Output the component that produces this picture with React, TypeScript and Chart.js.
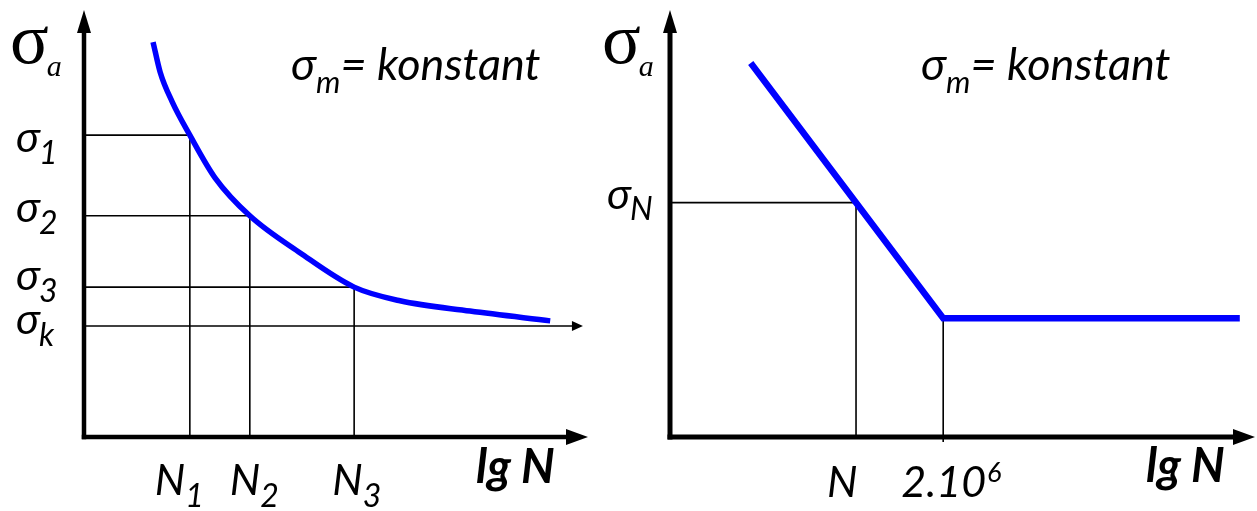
import React, { useEffect, useRef } from "react";
import { Chart, registerables } from "chart.js";

Chart.register(...registerables);

// Left panel: Wöhler curve at constant mean stress (lg N vs σa)
const curveLgN = [1.37, 1.51, 1.75, 2.1, 2.6, 3.29, 4.29, 5.36, 6.27, 7.66, 9.25];
const curveSigmaA = [9.25, 8.55, 7.85, 7.07, 6.07, 5.18, 4.31, 3.51, 3.19, 2.95, 2.72];
const levelIndex = ["1", "2", "3"];
const levelSigma = [7.07, 5.18, 3.51];
const levelLgN = [2.1, 3.29, 5.36];
const sigmaK = 2.6;
const sigmaKEnd = 9.9;

// Right panel: idealised S-N line with endurance limit at 2·10^6 cycles
const lineLgN = [1.38, 4.67, 9.74];
const lineSigmaA = [8.76, 2.78, 2.78];
const sigmaN = 5.49;
const lgNAtSigmaN = 3.18;
const kneeLgN = 4.67;
const kneeSigma = 2.78;
const kneeLowEnd = -0.12;
const kneeMantissa = "2.10";
const kneeExponent = "6";

const axisMin = 0;
const axisMax = 10;

// Text styles and label offsets
const SANS = "Lato, 'Open Sans', 'Noto Sans', sans-serif";
const MAIN_FONT = `italic 43px ${SANS}`;
const SUB_FONT = `italic 32px ${SANS}`;
const NOTE_FONT = `italic 45px ${SANS}`;
const NOTE_SUB_FONT = `italic 31px ${SANS}`;
const AXIS_FONT = `italic bold 47px ${SANS}`;
const SUP_FONT = `italic 27px ${SANS}`;
const SERIF_SIGMA = "72px 'Liberation Serif', 'DejaVu Serif', serif";
const SERIF_SUB = "italic 30px 'Liberation Serif', 'DejaVu Serif', serif";
const BLUE = "#0000ff";

const leftLevelLabelDy = [17, 6, 3];
const sigmaKLabelDy = 8;
const leftNLabelDx = [-35, -20, -22];

type Pt = { x: number; y: number };

function zipPoints(xs: number[], ys: number[]): Pt[] {
  return xs.map((x, i) => ({ x, y: ys[i] }));
}

function refPath(data: Pt[], width = 1.6) {
  return {
    data,
    borderColor: "#000",
    borderWidth: width,
    pointRadius: 0,
    tension: 0,
    fill: false,
    clip: false as any,
  };
}

function baseOptions(padding: { left: number; right: number; top: number; bottom: number }) {
  return {
    responsive: false,
    animation: false as const,
    events: [] as any[],
    layout: { padding },
    plugins: { legend: { display: false }, tooltip: { enabled: false } },
    scales: {
      x: { type: "linear" as const, min: axisMin, max: axisMax, display: false },
      y: { type: "linear" as const, min: axisMin, max: axisMax, display: false },
    },
  };
}

function arrowUp(ctx: CanvasRenderingContext2D, x: number, tip: number, len: number, half: number) {
  ctx.beginPath();
  ctx.moveTo(x, tip);
  ctx.lineTo(x - half, tip + len);
  ctx.lineTo(x + half, tip + len);
  ctx.closePath();
  ctx.fill();
}

function arrowRight(ctx: CanvasRenderingContext2D, tip: number, y: number, len: number, half: number) {
  ctx.beginPath();
  ctx.moveTo(tip, y);
  ctx.lineTo(tip - len, y - half);
  ctx.lineTo(tip - len, y + half);
  ctx.closePath();
  ctx.fill();
}

function drawAxes(chart: Chart, lw: number) {
  const ctx = chart.ctx;
  const xs = chart.scales.x;
  const ys = chart.scales.y;
  const x0 = xs.getPixelForValue(axisMin);
  const y0 = ys.getPixelForValue(axisMin);
  const yTop = ys.getPixelForValue(axisMax);
  const xRight = xs.getPixelForValue(axisMax);
  ctx.save();
  ctx.strokeStyle = "#000";
  ctx.fillStyle = "#000";
  ctx.lineWidth = lw;
  ctx.lineCap = "butt";
  ctx.beginPath();
  ctx.moveTo(x0, y0 + lw / 2);
  ctx.lineTo(x0, yTop + 20);
  ctx.stroke();
  arrowUp(ctx, x0, yTop, 23, 7);
  ctx.beginPath();
  ctx.moveTo(x0 - lw / 2, y0);
  ctx.lineTo(xRight - 20, y0);
  ctx.stroke();
  arrowRight(ctx, xRight, y0, 22, 8);
  ctx.restore();
}

function textWithIndex(
  ctx: CanvasRenderingContext2D,
  x: number,
  y: number,
  main: string,
  index: string,
  mainFont: string,
  subFont: string,
  dy: number,
  gap = 0
) {
  ctx.font = mainFont;
  ctx.fillText(main, x, y);
  const w = ctx.measureText(main).width;
  ctx.font = subFont;
  ctx.fillText(index, x + w + gap, y + dy);
  return x + w + gap + ctx.measureText(index).width;
}

function drawSigmaA(ctx: CanvasRenderingContext2D, x: number) {
  ctx.font = SERIF_SIGMA;
  ctx.fillText("σ", x, 63);
  const w = ctx.measureText("σ").width;
  ctx.font = SERIF_SUB;
  ctx.fillText("a", x + w - 2, 76);
}

function drawConstantNote(ctx: CanvasRenderingContext2D, x: number) {
  ctx.font = NOTE_FONT;
  ctx.fillText("σ", x, 80);
  let cx = x + ctx.measureText("σ").width;
  ctx.font = NOTE_SUB_FONT;
  ctx.fillText("m", cx, 93);
  cx += ctx.measureText("m").width;
  ctx.font = NOTE_FONT;
  ctx.fillText("= konstant", cx, 80);
}

function buildLeft(canvas: HTMLCanvasElement) {
  const datasets: any[] = [
    {
      data: zipPoints(curveLgN, curveSigmaA),
      borderColor: BLUE,
      borderWidth: 5.5,
      pointRadius: 0,
      cubicInterpolationMode: "monotone",
      fill: false,
      clip: false,
    },
    ...levelSigma.map((s, i) =>
      refPath([
        { x: 0, y: s },
        { x: levelLgN[i], y: s },
        { x: levelLgN[i], y: 0 },
      ])
    ),
    refPath(
      [
        { x: 0, y: sigmaK },
        { x: sigmaKEnd - 0.2, y: sigmaK },
      ],
      1.5
    ),
  ];

  const overlay = {
    id: "leftOverlay",
    afterDatasetsDraw(chart: Chart) {
      const ctx = chart.ctx;
      const xs = chart.scales.x;
      const ys = chart.scales.y;
      drawAxes(chart, 4.5);
      ctx.save();
      ctx.fillStyle = "#000";
      ctx.textBaseline = "alphabetic";
      // arrow tip of the endurance-limit line
      arrowRight(ctx, xs.getPixelForValue(sigmaKEnd), ys.getPixelForValue(sigmaK), 11, 5);

      drawSigmaA(ctx, 10);
      levelSigma.forEach((s, i) => {
        const yb = ys.getPixelForValue(s) + leftLevelLabelDy[i];
        textWithIndex(ctx, 16, yb, "σ", levelIndex[i], MAIN_FONT, SUB_FONT, 12, -1);
      });
      textWithIndex(ctx, 16, ys.getPixelForValue(sigmaK) + sigmaKLabelDy, "σ", "k", MAIN_FONT, SUB_FONT, 12, -1);

      const yAxisPix = ys.getPixelForValue(0);
      levelLgN.forEach((n, i) => {
        textWithIndex(ctx, xs.getPixelForValue(n) + leftNLabelDx[i], yAxisPix + 58, "N", levelIndex[i], MAIN_FONT, SUB_FONT, 12, 0);
      });
      ctx.font = AXIS_FONT;
      ctx.fillText("lg N", 476, yAxisPix + 46);
      drawConstantNote(ctx, 291);
      ctx.restore();
    },
  };

  return new Chart(canvas, {
    type: "line",
    data: { datasets },
    options: baseOptions({ left: 84, right: 8, top: 10, bottom: 74 }) as any,
    plugins: [overlay],
  });
}

function buildRight(canvas: HTMLCanvasElement) {
  const datasets: any[] = [
    {
      data: zipPoints(lineLgN, lineSigmaA),
      borderColor: BLUE,
      borderWidth: 6.5,
      pointRadius: 0,
      tension: 0,
      borderJoinStyle: "miter",
      fill: false,
      clip: false,
    },
    refPath([
      { x: 0, y: sigmaN },
      { x: lgNAtSigmaN, y: sigmaN },
      { x: lgNAtSigmaN, y: 0 },
    ]),
    refPath([
      { x: kneeLgN, y: kneeSigma },
      { x: kneeLgN, y: kneeLowEnd },
    ]),
  ];

  const overlay = {
    id: "rightOverlay",
    afterDatasetsDraw(chart: Chart) {
      const ctx = chart.ctx;
      const xs = chart.scales.x;
      const ys = chart.scales.y;
      drawAxes(chart, 5);
      ctx.save();
      ctx.fillStyle = "#000";
      ctx.textBaseline = "alphabetic";
      drawSigmaA(ctx, 6);
      textWithIndex(ctx, 11, ys.getPixelForValue(sigmaN) + 6, "σ", "N", MAIN_FONT, SUB_FONT, 11, -1);

      const yAxisPix = ys.getPixelForValue(0);
      ctx.font = MAIN_FONT;
      ctx.fillText("N", xs.getPixelForValue(lgNAtSigmaN) - 29, yAxisPix + 60);
      const kx = xs.getPixelForValue(kneeLgN) - 42;
      ctx.fillText(kneeMantissa, kx, yAxisPix + 60);
      const kw = ctx.measureText(kneeMantissa).width;
      ctx.font = SUP_FONT;
      ctx.fillText(kneeExponent, kx + kw + 1, yAxisPix + 45);

      ctx.font = AXIS_FONT;
      ctx.fillText("lg N", 550, yAxisPix + 45);
      drawConstantNote(ctx, 325);
      ctx.restore();
    },
  };

  return new Chart(canvas, {
    type: "line",
    data: { datasets },
    options: baseOptions({ left: 74, right: 2, top: 10, bottom: 74 }) as any,
    plugins: [overlay],
  });
}

export default function App() {
  const leftRef = useRef<HTMLCanvasElement>(null);
  const rightRef = useRef<HTMLCanvasElement>(null);

  useEffect(() => {
    const left = buildLeft(leftRef.current as HTMLCanvasElement);
    const right = buildRight(rightRef.current as HTMLCanvasElement);
    return () => {
      left.destroy();
      right.destroy();
    };
  }, []);

  return (
    <div style={{ position: "fixed", left: 0, top: 0, width: 1257, height: 511, background: "#fff" }}>
      <canvas ref={leftRef} width={596} height={511} style={{ position: "absolute", left: 0, top: 0 }} />
      <canvas ref={rightRef} width={661} height={511} style={{ position: "absolute", left: 596, top: 0 }} />
    </div>
  );
}
